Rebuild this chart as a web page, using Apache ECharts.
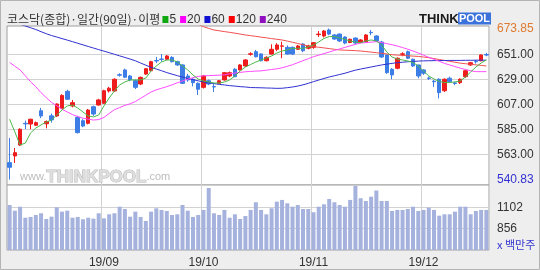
<!DOCTYPE html>
<html><head><meta charset="utf-8">
<script src="https://cdn.jsdelivr.net/npm/echarts@6/dist/echarts.min.js"></script>
<style>html,body{margin:0;padding:0;background:#eeeeee;}#c{width:540px;height:270px;}</style>
</head><body><div id="c"></div>
<script>
// ---- data ----
const dates = ['19/08/06','19/08/07','19/08/08','19/08/09','19/08/12','19/08/13','19/08/14','19/08/16','19/08/19','19/08/20','19/08/21','19/08/22','19/08/23','19/08/26','19/08/27','19/08/28','19/08/29','19/08/30',
'19/09/02','19/09/03','19/09/04','19/09/05','19/09/06','19/09/09','19/09/10','19/09/11','19/09/16','19/09/17','19/09/18','19/09/19','19/09/20','19/09/23','19/09/24','19/09/25','19/09/26','19/09/27','19/09/30',
'19/10/01','19/10/02','19/10/04','19/10/07','19/10/08','19/10/10','19/10/11','19/10/14','19/10/15','19/10/16','19/10/17','19/10/18','19/10/21','19/10/22','19/10/23','19/10/24','19/10/25','19/10/28','19/10/29','19/10/30','19/10/31',
'19/11/01','19/11/04','19/11/05','19/11/06','19/11/07','19/11/08','19/11/11','19/11/12','19/11/13','19/11/14','19/11/15','19/11/18','19/11/19','19/11/20','19/11/21','19/11/22','19/11/25','19/11/26','19/11/27','19/11/28','19/11/29',
'19/12/02','19/12/03','19/12/04','19/12/05','19/12/06','19/12/09','19/12/10','19/12/11','19/12/12','19/12/13','19/12/16','19/12/17','19/12/18'];

const opens = [555.8,561.7,571.3,590.4,589.8,588.7,601.5,590.0,597.0,596.9,603.6,618.6,605.7,595.7,592.7,590.4,605.0,606.5,608.0,618.9,618.9,633.2,637.4,632.1,628.0,625.0,633.8,636.7,645.7,647.0,646.8,648.5,644.7,641.8,632.1,629.2,625.6,622.1,627.9,622.8,625.6,628.6,632.1,638.0,637.4,640.9,651.2,653.5,651.5,645.5,651.4,655.6,658.3,657.3,657.3,655.6,660.2,656.5,657.3,668.5,667.3,672.6,668.2,669.0,666.4,661.6,665.5,662.0,662.0,670.5,667.3,662.0,650.6,638.0,638.9,651.2,653.5,646.8,641.8,637.4,630.3,627.5,629.2,619.1,630.1,626.0,626.2,631.5,641.8,645.0,645.5,651.0];
const closes = [551.7,564.6,585.2,589.9,594.0,591.0,596.9,592.0,593.4,607.4,615.0,611.6,608.6,582.2,588.0,602.1,598.6,611.0,619.1,621.3,629.2,632.8,631.0,628.6,622.1,630.9,638.5,644.7,645.3,646.7,649.7,644.7,641.8,625.6,628.6,626.2,620.4,632.1,625.0,622.4,627.9,635.0,635.0,631.5,641.8,646.2,651.6,649.0,645.5,648.5,655.6,659.4,658.6,651.4,651.4,658.5,654.3,658.5,661.4,669.0,671.7,669.0,664.6,662.9,661.1,664.4,661.1,663.8,668.2,670.2,662.9,648.8,635.0,633.0,647.7,651.6,647.7,640.9,632.1,634.5,630.0,627.0,617.4,629.2,627.1,625.5,629.2,636.7,643.8,644.6,650.6,650.5];
const lows = [540.83,555.5,570.5,585.4,585.2,588.0,595.0,586.0,591.0,596.0,603.0,611.0,604.5,581.5,587.0,589.5,597.0,606.0,607.5,617.5,618.0,631.5,630.5,627.5,620.6,624.0,633.0,636.0,643.5,644.7,646.0,644.0,641.0,625.0,627.0,623.0,615.4,621.0,624.0,618.0,625.0,628.0,631.0,631.0,637.0,640.0,650.0,648.5,645.0,645.0,651.0,654.0,647.7,651.0,650.5,655.0,653.0,655.5,656.0,666.4,666.0,668.0,664.0,662.0,660.0,661.0,660.0,661.0,661.5,668.0,662.0,648.0,634.0,629.2,638.0,649.5,647.0,640.0,630.0,633.0,628.5,622.5,612.4,618.0,626.0,624.0,625.0,630.5,641.0,643.0,645.0,649.5];
const highs = [577.5,568.7,586.0,592.8,594.5,592.0,604.0,593.0,599.0,608.0,616.0,620.0,611.0,597.0,594.0,603.0,606.0,612.0,620.0,622.5,630.0,634.5,638.5,633.0,629.0,631.5,639.0,645.5,648.8,651.4,650.5,649.5,645.5,642.5,634.0,630.0,626.5,633.0,629.0,625.0,628.5,635.5,636.0,639.0,642.5,647.0,653.0,655.0,652.0,649.5,660.0,661.0,662.3,659.0,658.0,659.5,661.0,659.5,662.0,671.7,672.5,673.85,669.0,669.5,667.0,665.0,666.0,664.5,669.0,672.5,668.0,663.0,651.0,639.0,648.5,653.0,654.5,647.5,642.0,638.0,631.5,628.5,630.0,630.0,631.5,627.0,630.0,637.5,644.5,646.0,651.0,652.5];

const volumes = [1131,1064,1111,982,991,1014,1034,967,994,1104,1053,1064,982,991,964,982,971,1034,975,1022,1034,1111,1084,994,1053,991,944,1053,1092,1073,1061,1014,1022,1131,1064,991,1014,1073,1330,1034,1014,1073,982,1022,967,1002,1073,1163,1073,1022,1092,1170,1190,1151,1111,1131,1084,1084,1046,1111,1139,1201,1163,1131,1111,1190,1355,1210,1178,1228,1300,1178,1178,1061,1073,1073,1084,1111,1061,1073,1100,1073,1006,1022,1022,1053,1111,1111,1022,1061,1073,1073];

const ma5 = [594,582.8,571.3,573,581.9,586.3,589,591.6,593.3,597.7,602.1,605.7,606.5,603.9,600.4,596.9,596,597.7,605.7,612.7,618.9,624.2,626.8,628.6,628.6,628.6,630.3,636.5,640.9,644.4,646.2,646.2,644.4,640.9,637.4,633,629.4,627.7,626.8,625.9,625.9,626.8,628.6,632.1,636.5,640,642.2,644.4,646.2,647.9,649.7,652.3,654.1,655,656.3,656.5,656.5,657.6,659.4,662,665.1,666.8,666.8,665.5,664.2,662.9,662,661.4,662.9,663.8,662.9,659.4,653.2,648.8,647,646.2,645.3,644,640.9,636.5,632.1,629.4,627.2,626.4,626.4,626.8,627.7,631.2,635.6,640,643.5,646.2];
const ma20 = [644,640.7,637.4,632.2,627,622.6,617.4,613,608.8,605.9,602.8,600.4,598.1,596.4,594.9,594.1,593.3,593.7,595.6,599.1,602.4,604.3,606.2,607.6,609.6,612.4,615.2,618,619.9,621.3,622.7,624.3,626.1,627.7,629.3,630.6,631.7,632.2,632.4,632.6,632.8,633.1,634,634.7,635.2,635.8,636.1,636.4,636.6,637.2,637.8,638.4,639.3,640.6,642,643.8,645.6,647.3,649.1,650.4,651.8,653.2,654.6,655.9,657.3,658.6,659.9,661.1,661.5,661.9,662.3,661.5,660.6,659.6,658.5,657.1,655.7,654.1,652.3,650.4,648.5,646.8,645,643.2,641.8,640.4,639,637.8,636.7,635.9,635.9,635.9];
const ma60 = [680.5,679,677.6,676.1,674.6,673,671.1,669.3,667.7,666.4,665,663.7,662.3,660.9,659.5,658.1,656.7,655.3,654,652.6,651.2,649.8,648.4,647,645.5,643.5,641.6,639.7,638.2,636.7,635.1,633.7,632.4,631.1,629.9,628.9,627.8,626.8,626,625.4,624.7,624.2,623.6,623.2,622.7,622.4,621.9,621.8,621.7,621.5,621.4,621.2,621.3,621.8,622.4,623.2,624.3,625.6,627.1,628.5,629.9,631.2,632.3,633.4,634.5,635.9,637.2,638.2,639.1,640,640.9,641.8,642.5,643.2,643.8,644.2,644.6,644.9,645.2,645.4,645.5,645.6,645.7,645.7,645.8,645.8,645.8,645.9,645.9,646,646,646];
const ma120 = [null,null,null,null,null,null,null,null,null,null,null,null,null,null,null,null,null,null,null,null,null,null,null,null,null,null,null,null,null,null,null,null,null,null,null,null,
677.5,675.5,674,672.6,671.9,671.2,670.5,669.8,669,668.2,667.6,667,666.3,665.7,665,664.4,663.8,662.8,661.8,660.7,659.6,658.5,658,657.4,656.8,656.2,655.6,655,654.8,654.6,654.4,654.1,653.6,653.1,652.6,652.1,651.5,650.8,650.5,650.2,649.9,649.6,649.3,648.8,648.2,647.4,646.6,645.8,645,644.2,643.4,642.9,642.4,641.9,641.4,640.9];

const priceTicks = [540.83, 563, 585, 607, 629, 651, 673.85];
const priceGridValues = [563, 585, 607, 629, 651];
const volumeTicks = [856, 1102];
const priceMin = 536.1, priceMax = 676.1;
const volMin = 604, volMax = 1365;
const titleText = '코스닥(종합)·일간(90일)·이평';
const maLabels = ['5', '20', '60', '120', '240'];
const volUnit = 'x 백만주';

// ---- chart ----
const NARROW = "'Liberation Sans Narrow','Liberation Sans',sans-serif";
const KR = "'Noto Sans CJK KR',sans-serif";
const gridColor = '#d2d2d2';
const monthStart = (i) => i > 0 && dates[i].slice(0, 5) !== dates[i - 1].slice(0, 5);
const candleData = dates.map((d, i) => [opens[i], closes[i], lows[i], highs[i]]);

const fmtPrice = (v) => {
  const s = v.toFixed(2);
  if (v === priceTicks[priceTicks.length - 1]) return '{hi|' + s + '}';
  if (v === priceTicks[0]) return '{lo|' + s + '}';
  return s;
};

const maLine = (data, color) => ({
  type: 'line', xAxisIndex: 0, yAxisIndex: 0, data, showSymbol: false, symbol: 'none',
  lineStyle: { color, width: 1 }, itemStyle: { color }, z: 4, silent: true
});

const chart = echarts.init(document.getElementById('c'));
chart.setOption({
  animation: false,
  backgroundColor: '#eeeeee',
  grid: [
    { left: 7, right: 51, top: 26, height: 159, show: true, backgroundColor: '#ffffff', borderColor: '#a0a0a0', borderWidth: 1 },
    { left: 7, right: 51, top: 185, height: 65, show: true, backgroundColor: '#ffffff', borderColor: '#a0a0a0', borderWidth: 1 }
  ],
  xAxis: [
    { type: 'category', gridIndex: 0, data: dates, boundaryGap: true,
      axisLine: { show: false }, axisTick: { show: false }, axisLabel: { show: false },
      splitLine: { show: true, interval: monthStart, lineStyle: { color: gridColor, width: 1 } } },
    { type: 'category', gridIndex: 1, data: dates, boundaryGap: true,
      axisLine: { show: false }, axisTick: { show: false },
      axisLabel: { show: true, interval: monthStart, formatter: (v) => v.slice(0, 5), margin: 7,
        fontSize: 12, fontFamily: "'Liberation Sans',sans-serif", color: '#333' },
      splitLine: { show: true, interval: monthStart, lineStyle: { color: gridColor, width: 1 } } }
  ],
  yAxis: [
    { type: 'value', gridIndex: 0, position: 'right', min: priceMin, max: priceMax,
      axisLine: { show: false }, axisTick: { show: false, customValues: priceGridValues },
      splitLine: { show: true, lineStyle: { color: gridColor, width: 1 } },
      axisLabel: { customValues: priceTicks, margin: 8, formatter: fmtPrice, fontSize: 12, fontFamily: NARROW, color: '#333',
        rich: { hi: { color: '#e07a30', fontSize: 12, fontFamily: NARROW }, lo: { color: '#3232d2', fontSize: 12, fontFamily: NARROW } } } },
    { type: 'value', gridIndex: 1, position: 'right', min: volMin, max: volMax,
      axisLine: { show: false }, axisTick: { show: false, customValues: volumeTicks },
      splitLine: { show: true, lineStyle: { color: gridColor, width: 1 } },
      axisLabel: { customValues: volumeTicks, margin: 8, formatter: (v) => String(v), fontSize: 12, fontFamily: NARROW, color: '#333' } }
  ],
  series: [
    { type: 'candlestick', xAxisIndex: 0, yAxisIndex: 0, data: candleData, barWidth: 4, z: 3, silent: true,
      itemStyle: { color: '#ee1c1c', color0: '#3d7de6', borderColor: '#ee1c1c', borderColor0: '#3d7de6', borderWidth: 1 } },
    maLine(ma120, '#f05050'),
    maLine(ma60, '#3030d0'),
    maLine(ma20, '#ff4cff'),
    maLine(ma5, '#4cb84c'),
    { type: 'bar', xAxisIndex: 1, yAxisIndex: 1, data: volumes, barWidth: 4, z: 3, silent: true,
      itemStyle: { color: '#a5b2dd' } }
  ],
  graphic: [
    { type: 'rect', z: 100, silent: true, shape: { x: 0.5, y: 0.5, width: 539, height: 269 },
      style: { fill: 'none', stroke: '#b4b4b4', lineWidth: 1 } },
    { type: 'text', x: 7, y: 19.5, z: 10, silent: true, style: {
      text: '{t|' + titleText + '}{g| }{n|' + maLabels[0] + '}{m| }{n|' + maLabels[1] + '}{b| }{n|' + maLabels[2] + '}{r| }{n|' + maLabels[3] + '}{p| }{n|' + maLabels[4] + '}',
      verticalAlign: 'middle',
      rich: {
        t: { fontSize: 12, fontFamily: KR, fill: '#333', padding: [0, 2, 0, 0] },
        g: { width: 6, height: 7, backgroundColor: '#10a810' },
        m: { width: 6, height: 7, backgroundColor: '#ff00ff' },
        b: { width: 6, height: 7, backgroundColor: '#1010d0' },
        r: { width: 6, height: 7, backgroundColor: '#ff0000' },
        p: { width: 6, height: 7, backgroundColor: '#9010c0' },
        n: { fontSize: 12, fontFamily: NARROW, fill: '#333', padding: [0, 4, 0, 1] }
      } } },
    { type: 'text', x: 419, y: 19, z: 10, silent: true,
      style: { text: 'THINK', font: "bold 13px 'Liberation Sans',sans-serif", fill: '#1b1b1b', verticalAlign: 'middle' } },
    { type: 'rect', z: 10, silent: true, shape: { x: 458, y: 12.5, width: 33, height: 12 }, style: { fill: '#3c72dc' } },
    { type: 'text', x: 474.5, y: 18.7, z: 11, silent: true,
      style: { text: 'POOL', font: "bold 11px 'Liberation Sans',sans-serif", fill: '#ffffff', align: 'center', verticalAlign: 'middle' } },
    { type: 'text', x: 20, y: 177, z: 1, silent: true, style: {
      text: '{a|www.}{b|THINKPOOL}{a|.com}', verticalAlign: 'middle',
      rich: {
        a: { fontSize: 11, fontFamily: "'Liberation Sans',sans-serif", fill: '#bcbcbc' },
        b: { fontSize: 17, fontWeight: 'bold', fontFamily: NARROW, fill: '#dedede', stroke: '#b8b8b8', lineWidth: 1 }
      } } },
    { type: 'text', x: 497, y: 245, z: 10, silent: true,
      style: { text: volUnit, font: "11px 'Noto Sans CJK KR',sans-serif", fill: '#3535d0', verticalAlign: 'middle' } }
  ]
});
</script>
</body></html>
